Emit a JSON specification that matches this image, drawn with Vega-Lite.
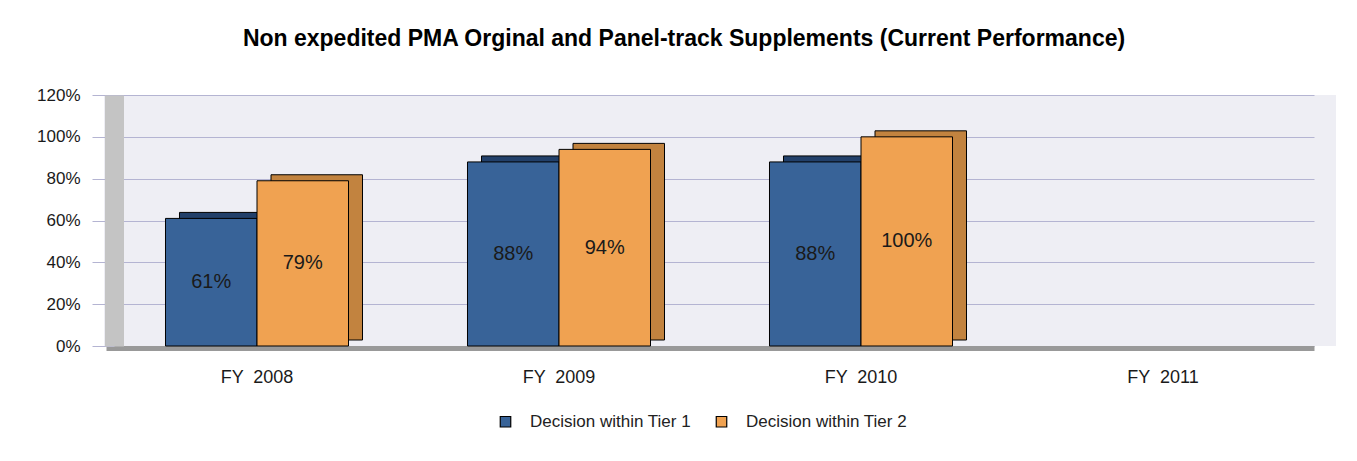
{
  "$schema": "https://vega.github.io/schema/vega-lite/v6.json",
  "autosize": "none",
  "width": 1232,
  "height": 251,
  "padding": {"left": 104, "top": 95, "right": 21, "bottom": 115},
  "background": "white",
  "config": {
    "font": "Liberation Sans",
    "view": {"fill": "#EEEEF4", "stroke": null}
  },
  "title": {
    "text": "Non expedited PMA Orginal and Panel-track Supplements (Current Performance)",
    "fontSize": 23,
    "fontWeight": "bold",
    "font": "Liberation Sans",
    "color": "#000000",
    "anchor": "middle",
    "dx": -36,
    "offset": 35
  },
  "data": {
    "values": [
      {"year": "FY 2008", "series": "Decision within Tier 1", "value": 0.61, "label": "61%"},
      {"year": "FY 2008", "series": "Decision within Tier 2", "value": 0.79, "label": "79%"},
      {"year": "FY 2009", "series": "Decision within Tier 1", "value": 0.88, "label": "88%"},
      {"year": "FY 2009", "series": "Decision within Tier 2", "value": 0.94, "label": "94%"},
      {"year": "FY 2010", "series": "Decision within Tier 1", "value": 0.88, "label": "88%"},
      {"year": "FY 2010", "series": "Decision within Tier 2", "value": 1.0, "label": "100%"}
    ]
  },
  "layer": [
    {
      "mark": {"type": "bar", "yOffset": -6, "stroke": "#000000", "strokeWidth": 1},
      "encoding": {
        "x": {"field": "year", "type": "nominal", "scale": {"domain": ["FY 2008", "FY 2009", "FY 2010", "FY 2011"], "range": [16, 1224], "paddingInner": 0.394, "paddingOuter": 0.197}, "axis": null},
        "xOffset": {"field": "series", "type": "nominal", "scale": {"paddingInner": 0, "paddingOuter": 0}},
        "y": {"field": "value", "type": "quantitative", "scale": {"domain": [0, 1.2]}, "axis": null},
        "fill": {"condition": {"test": "datum.series === 'Decision within Tier 1'", "value": "#22406A"}, "value": "#C2833F"}
      }
    },
    {
      "mark": {"type": "bar", "stroke": "#000000", "strokeWidth": 1},
      "encoding": {
        "x": {"field": "year", "type": "nominal", "title": null,
          "scale": {"domain": ["FY 2008", "FY 2009", "FY 2010", "FY 2011"], "range": [2, 1210], "paddingInner": 0.394, "paddingOuter": 0.197},
          "axis": {"orient": "bottom", "labelExpr": "replace(datum.label, ' ', ' \u00a0')", "labelAngle": 0, "labelFontSize": 18, "labelColor": "#1a1a1a", "labelPadding": 20, "ticks": false, "tickSize": 0, "domain": true, "domainColor": "#999999", "domainWidth": 5, "offset": 2, "grid": false}},
        "xOffset": {"field": "series", "type": "nominal", "scale": {"paddingInner": 0, "paddingOuter": 0}},
        "y": {"field": "value", "type": "quantitative", "title": null,
          "scale": {"domain": [0, 1.2]},
          "axis": {"orient": "left", "values": [0, 0.2, 0.4, 0.6, 0.8, 1.0, 1.2], "format": ".0%", "labelFontSize": 17, "labelColor": "#1a1a1a", "labelPadding": 12, "tickSize": 22, "tickColor": "#B4B4D2", "tickWidth": 1, "domain": true, "domainColor": "#C4C4C4", "domainWidth": 19, "offset": -10, "grid": true, "gridColor": "#B4B4D2", "gridWidth": 1.2}},
        "color": {"field": "series", "type": "nominal",
          "scale": {"domain": ["Decision within Tier 1", "Decision within Tier 2"], "range": ["#386398", "#F0A251"]},
          "legend": {"orient": "none", "legendX": 393, "legendY": 318, "direction": "horizontal", "title": null, "symbolType": "square", "symbolSize": 110, "symbolStrokeColor": "#000000", "symbolStrokeWidth": 1.2, "labelFontSize": 17, "labelLimit": 400, "labelColor": "#222222", "labelOffset": 16, "columnPadding": 22}}
      }
    },
    {
      "mark": {"type": "text", "fontSize": 20, "color": "#1a1a1a", "baseline": "middle", "align": "center"},
      "encoding": {
        "x": {"field": "year", "type": "nominal", "scale": {"domain": ["FY 2008", "FY 2009", "FY 2010", "FY 2011"], "range": [2, 1210], "paddingInner": 0.394, "paddingOuter": 0.197}, "axis": null},
        "xOffset": {"field": "series", "type": "nominal", "scale": {"paddingInner": 0, "paddingOuter": 0}},
        "y": {"field": "value", "type": "quantitative", "scale": {"domain": [0, 2.4]}, "axis": null},
        "text": {"field": "label"}
      }
    }
  ],
  "resolve": {"scale": {"x": "independent", "y": "independent"}}
}
